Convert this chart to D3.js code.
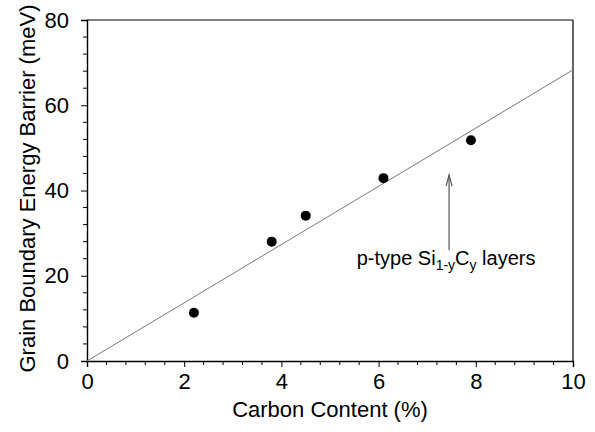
<!DOCTYPE html>
<html>
<head>
<meta charset="utf-8">
<script src="https://cdn.jsdelivr.net/npm/d3@7"></script>
<style>
  html, body { margin: 0; padding: 0; background: #fff; }
  svg { display: block; }
  svg text { font-family: "Liberation Sans", Arial, Helvetica, sans-serif; }
</style>
</head>
<body>
<svg id="chart" width="595" height="432"></svg>
<script>
// Measured grain-boundary barrier vs. carbon content
const carbonContent = [2.2, 3.8, 4.5, 6.1, 7.9];
const barrierEnergy = [11.3, 28.0, 34.1, 42.9, 51.8];

// Linear fit through the origin (endpoints)
const fitX = [0, 10];
const fitY = [0, 68.3];

// Axis ticks
const xTicks = [0, 2, 4, 6, 8, 10];
const yTicks = [0, 20, 40, 60, 80];

// Annotation: arrow and label (data coordinates)
const arrowX = 7.45;
const arrowY = [26.0, 43.6];
const labelPos = [5.55, 22.6];

const FONT = "'Liberation Sans', Arial, Helvetica, sans-serif";
const svg = d3.select("#chart");
const margin = { left: 87, right: 22, top: 20, bottom: 71 };
const W = 595, H = 432;

const x = d3.scaleLinear().domain([0, 10]).range([margin.left, W - margin.right]);
const y = d3.scaleLinear().domain([0, 80]).range([H - margin.bottom, margin.top]);

// Frame (top and right edges)
svg.append("line").attr("x1", x(0)).attr("x2", x(10)).attr("y1", y(80)).attr("y2", y(80))
  .attr("stroke", "#000").attr("stroke-width", 1.2);
svg.append("line").attr("x1", x(10)).attr("x2", x(10)).attr("y1", y(80)).attr("y2", y(0))
  .attr("stroke", "#000").attr("stroke-width", 1.2);

// Minor ticks
const xMinor = d3.range(0, 10.001, 0.4).filter(v => Math.abs(v / 2 - Math.round(v / 2)) > 1e-6);
const yMinor = d3.range(0, 80.001, 4).filter(v => v % 20 !== 0);

const xAxis = svg.append("g").attr("transform", `translate(0,${y(0)})`);
xAxis.call(d3.axisBottom(x).tickValues(xTicks).tickSize(6).tickPadding(6).tickFormat(d3.format("d")));
xAxis.selectAll(".minor").data(xMinor).enter().append("line")
  .attr("x1", d => x(d)).attr("x2", d => x(d)).attr("y1", 0).attr("y2", 4)
  .attr("stroke", "#000").attr("stroke-width", 1);

const yAxis = svg.append("g").attr("transform", `translate(${x(0)},0)`);
yAxis.call(d3.axisLeft(y).tickValues(yTicks).tickSize(6).tickPadding(12).tickFormat(d3.format("d")));
yAxis.selectAll(".minor").data(yMinor).enter().append("line")
  .attr("x1", 0).attr("x2", -4).attr("y1", d => y(d)).attr("y2", d => y(d))
  .attr("stroke", "#000").attr("stroke-width", 1);

svg.selectAll(".domain").attr("stroke", "#000").attr("stroke-width", 1.4);
svg.selectAll(".tick line").attr("stroke", "#000").attr("stroke-width", 1);
svg.selectAll(".tick text").attr("font-size", 22).attr("fill", "#000")
  .attr("font-family", FONT);

// Axis titles
svg.append("text").attr("x", (x(0) + x(10)) / 2).attr("y", 417)
  .attr("text-anchor", "middle").attr("font-size", 22).attr("fill", "#000")
  .attr("font-family", FONT)
  .text("Carbon Content (%)");
svg.append("text")
  .attr("transform", `translate(35,${(y(0) + y(80)) / 2 - 2}) rotate(-90)`)
  .attr("text-anchor", "middle").attr("font-size", 22).attr("fill", "#000")
  .attr("font-family", FONT)
  .text("Grain Boundary Energy Barrier (meV)");

// Fit line
svg.append("line")
  .attr("x1", x(fitX[0])).attr("y1", y(fitY[0]))
  .attr("x2", x(fitX[1])).attr("y2", y(fitY[1]))
  .attr("stroke", "#777").attr("stroke-width", 1);

// Data points
svg.selectAll(".pt").data(carbonContent).enter().append("circle")
  .attr("cx", d => x(d)).attr("cy", (d, i) => y(barrierEnergy[i]))
  .attr("r", 5).attr("fill", "#000");

// Arrow
const ax = x(arrowX), ay0 = y(arrowY[0]), ay1 = y(arrowY[1]);
svg.append("line").attr("x1", ax).attr("x2", ax).attr("y1", ay0).attr("y2", ay1)
  .attr("stroke", "#555").attr("stroke-width", 1.2);
svg.append("path")
  .attr("d", `M${ax - 3},${ay1 + 11} L${ax},${ay1} L${ax + 3},${ay1 + 11}`)
  .attr("fill", "none").attr("stroke", "#555").attr("stroke-width", 1.2);

// Label
const lbl = svg.append("text").attr("x", x(labelPos[0])).attr("y", y(labelPos[1]))
  .attr("font-size", 20).attr("fill", "#000").attr("font-family", FONT);
lbl.append("tspan").text("p-type Si");
lbl.append("tspan").attr("font-size", 14).attr("dy", 5).text("1-y");
lbl.append("tspan").attr("dy", -5).text("C");
lbl.append("tspan").attr("font-size", 14).attr("dy", 5).text("y");
lbl.append("tspan").attr("dy", -5).text(" layers");
</script>
</body>
</html>
